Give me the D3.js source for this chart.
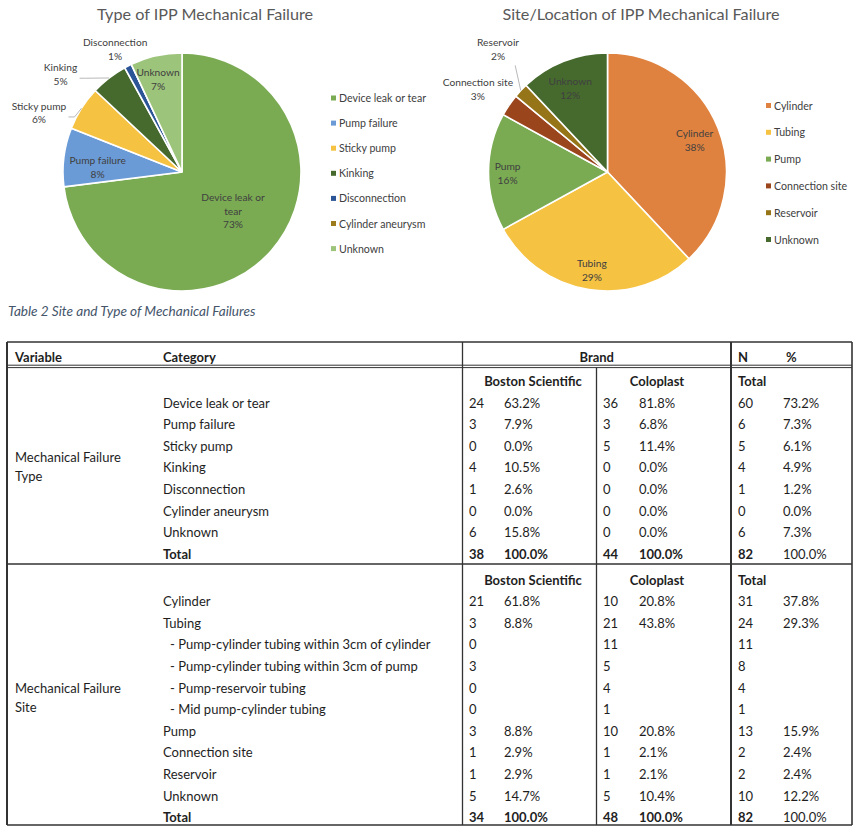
<!DOCTYPE html>
<html>
<head>
  <meta charset="UTF-8">
	<style>
	body { margin: 0; background: #fff; }
	svg { font-family: Lato, 'Open Sans', sans-serif; }
	.title { font-size: 16.2px; fill: #595959; text-anchor: middle; }
	.slice-label { font-size: 10.2px; fill: #404040; text-anchor: middle; }
	.legend-text { font-size: 10.6px; fill: #404040; }
	.caption { font-size: 13.6px; fill: #44546a; font-style: italic; }
	.cell { font-size: 13px; fill: #1e1e1e; }
	.bold { font-weight: bold; }
	.rule { stroke: #333; fill: none; }
	.leader { stroke: #a6a6a6; fill: none; stroke-width: 0.8px; }
	</style>
</head>
<body>
	<svg id="chart" width="856" height="828"></svg>
	<script src="https://d3js.org/d3.v7.min.js"></script>
	<script>

	// ---- pie data (percent labels as shown on the charts)
	let typeNames = ["Device leak or tear", "Pump failure", "Sticky pump", "Kinking", "Disconnection", "Cylinder aneurysm", "Unknown"];
	let typeValues = [73, 8, 6, 5, 1, 0, 7];
	let typeColors = ["#7aab53", "#6b9bd6", "#f5c242", "#466a2e", "#2b5596", "#9c7b1c", "#9dc47b"];

	let siteNames = ["Cylinder", "Tubing", "Pump", "Connection site", "Reservoir", "Unknown"];
	let siteValues = [38, 29, 16, 3, 2, 12];
	let siteColors = ["#e0823f", "#f5c242", "#7aab53", "#9b451c", "#967418", "#466a2e"];

	// ---- table data
	let typeCats = ["Device leak or tear", "Pump failure", "Sticky pump", "Kinking", "Disconnection", "Cylinder aneurysm", "Unknown", "Total"];
	let typeBS = [24, 3, 0, 4, 1, 0, 6, 38];
	let typeBSPct = [63.2, 7.9, 0.0, 10.5, 2.6, 0.0, 15.8, 100.0];
	let typeCP = [36, 3, 5, 0, 0, 0, 0, 44];
	let typeCPPct = [81.8, 6.8, 11.4, 0.0, 0.0, 0.0, 0.0, 100.0];
	let typeTot = [60, 6, 5, 4, 1, 0, 6, 82];
	let typeTotPct = [73.2, 7.3, 6.1, 4.9, 1.2, 0.0, 7.3, 100.0];

	let siteCats = ["Cylinder", "Tubing", "- Pump-cylinder tubing within 3cm of cylinder", "- Pump-cylinder tubing within 3cm of pump",
		"- Pump-reservoir tubing", "- Mid pump-cylinder tubing", "Pump", "Connection site", "Reservoir", "Unknown", "Total"];
	let siteBS = [21, 3, 0, 3, 0, 0, 3, 1, 1, 5, 34];
	let siteBSPct = [61.8, 8.8, null, null, null, null, 8.8, 2.9, 2.9, 14.7, 100.0];
	let siteCP = [10, 21, 11, 5, 4, 1, 10, 1, 1, 5, 48];
	let siteCPPct = [20.8, 43.8, null, null, null, null, 20.8, 2.1, 2.1, 10.4, 100.0];
	let siteTot = [31, 24, 11, 8, 4, 1, 13, 2, 2, 10, 82];
	let siteTotPct = [37.8, 29.3, null, null, null, null, 15.9, 2.4, 2.4, 12.2, 100.0];

	let svg = d3.select("#chart");
	let R = 119;

	// label placement: radius factor k and angle nudge (deg) per slice
	let typeLabelFit = [
		{k: 0.54, da: -4, lines: ["Device leak or", "tear"]},
		{k: 0.71, da: -4},
		{k: 1.30, da: -10, leader: true},
		{k: 1.31, da: -13.4, leader: true},
		{k: 1.17, da: -1.7},
		null,
		{k: 0.80, da: -2}
	];
	let siteLabelFit = [
		{k: 0.78, da: 1.5},
		{k: 0.84, da: 0},
		{k: 0.84, da: -0.7},
		{k: 1.29, da: -1.8, leader: true},
		{k: 1.38, da: 5, leader: true},
		{k: 0.77, da: -2.4}
	];

	function drawPie(cx, cy, title, titleX, names, values, colors, fits, legendX, legendY, legendStep) {
		let g = svg.append("g").attr("transform", "translate(" + cx + "," + cy + ")");
		let pie = d3.pie().sort(null).value(d => d);
		let arcs = pie(values);
		let arc = d3.arc().innerRadius(0).outerRadius(R);

		g.selectAll("path")
			.data(arcs)
			.enter()
			.append("path")
			.attr("d", arc)
			.attr("fill", (d, i) => colors[i])
			.attr("stroke", "#fff")
			.attr("stroke-width", 1.6);

		svg.append("text")
			.attr("class", "title")
			.attr("x", titleX)
			.attr("y", 20)
			.text(title);

		arcs.forEach((a, i) => {
			let f = fits[i];
			if (!f || a.value === 0) return;
			let mid = (a.startAngle + a.endAngle) / 2;
			let ang = mid + f.da * Math.PI / 180;
			let lx = Math.sin(ang) * R * f.k;
			let ly = -Math.cos(ang) * R * f.k;
			let lines = (f.lines || [names[i]]).concat([a.value + "%"]);
			let lh = 13.8;
			let t = g.append("text")
				.attr("class", "slice-label")
				.attr("x", lx)
				.attr("y", ly - (lines.length - 1) * lh / 2 + 3.5);
			lines.forEach((s, j) => {
				t.append("tspan").attr("x", lx).attr("dy", j === 0 ? 0 : lh).text(s);
			});
			if (f.leader) {
				let w = t.node().getBBox().width;
				let ex = Math.sin(mid) * R;
				let ey = -Math.cos(mid) * R;
				let sx = lx + w / 2 + 2;
				let sy = ly + lh / 2 - 3;
				if (lx + w / 2 < ex - 12) {
					g.append("path")
						.attr("class", "leader")
						.attr("d", d3.line()([[sx, sy], [sx + 6, sy], [ex, ey]]));
				} else {
					g.append("path")
						.attr("class", "leader")
						.attr("d", d3.line()([[sx - 6, ly + lh + 2], [ex, ey]]));
				}
			}
		});

		// legend
		let lg = svg.append("g").attr("transform", "translate(" + legendX + "," + legendY + ")");
		let item = lg.selectAll("g")
			.data(names)
			.enter()
			.append("g")
			.attr("transform", (d, i) => "translate(0," + (i * legendStep) + ")");
		item.append("rect")
			.attr("x", 0).attr("y", -3)
			.attr("width", 5).attr("height", 5)
			.attr("fill", (d, i) => colors[i]);
		item.append("text")
			.attr("class", "legend-text")
			.attr("x", 8)
			.attr("y", 3.5)
			.text(d => d);
	}

	drawPie(182, 172, "Type of IPP Mechanical Failure", 205, typeNames, typeValues, typeColors, typeLabelFit, 331, 98.5, 25.1);
	drawPie(607.5, 172, "Site/Location of IPP Mechanical Failure", 641, siteNames, siteValues, siteColors, siteLabelFit, 766, 106, 26.8);

	svg.append("text")
		.attr("class", "caption")
		.attr("x", 8)
		.attr("y", 316)
		.text("Table 2 Site and Type of Mechanical Failures");

	// ---- table
	let xL = 7, xBrand = 462.5, xMid = 596.5, xTot = 731, xR = 852;
	let yTop = 342, yHead = 366, ySec = 564, yBot = 825;
	let rowStep = 21.6;
	let colX = {cat: 163, bsN: 469, bsP: 504, cpN: 603, cpP: 639, totN: 738, totP: 783};
	let fmt = v => (v === null ? "" : v.toFixed(1) + "%");

	let tbl = svg.append("g");
	function hline(y, x1, x2, w) {
		tbl.append("line").attr("class", "rule").attr("x1", x1).attr("x2", x2).attr("y1", y).attr("y2", y).attr("stroke-width", w);
	}
	function vline(x, y1, y2, w) {
		tbl.append("line").attr("class", "rule").attr("x1", x).attr("x2", x).attr("y1", y1).attr("y2", y2).attr("stroke-width", w);
	}
	hline(yTop, xL, xR, 1.5);
	hline(yHead - 0.8, xL, xR, 1);
	hline(yHead + 1.6, xL, xR, 1);
	hline(ySec, xL, xR, 1.4);
	hline(yBot, xL, xR, 1.5);
	vline(xL, yTop, yBot, 2);
	vline(xR, yTop, yBot, 1.6);
	vline(xBrand, yTop, yBot, 1.3);
	vline(xMid, yHead + 1.6, yBot, 1.3);
	vline(xTot, yTop, yBot, 2);

	function cell(x, y, s, bold, anchor) {
		tbl.append("text")
			.attr("class", "cell" + (bold ? " bold" : ""))
			.attr("x", x)
			.attr("y", y)
			.attr("text-anchor", anchor || "start")
			.text(s);
	}

	cell(15, 361.5, "Variable", true);
	cell(colX.cat, 361.5, "Category", true);
	cell((xBrand + xTot) / 2, 361.5, "Brand", true, "middle");
	cell(colX.totN, 361.5, "N", true);
	cell(colX.totP + 3, 361.5, "%", true);

	function section(y0, cats, bsN, bsP, cpN, cpP, totN, totP, varLines) {
		let y = d3.scaleLinear().domain([0, 1]).range([y0, y0 + rowStep]);
		cell(533, y(0), "Boston Scientific", true, "middle");
		cell(657, y(0), "Coloplast", true, "middle");
		cell(colX.totN, y(0), "Total", true);
		cats.forEach((c, i) => {
			let yy = y(i + 1);
			let last = i === cats.length - 1;
			let indent = c.startsWith("-") ? 7 : 0;
			cell(colX.cat + indent, yy, c, last);
			cell(colX.bsN, yy, bsN[i], last);
			cell(colX.bsP, yy, fmt(bsP[i]), last);
			cell(colX.cpN, yy, cpN[i], last);
			cell(colX.cpP, yy, fmt(cpP[i]), last);
			cell(colX.totN, yy, totN[i], last);
			cell(colX.totP, yy, fmt(totP[i]), false);
		});
		let mid = y((cats.length - 1) / 2);
		cell(15, mid, varLines[0]);
		cell(15, mid + 19.7, varLines[1]);
	}

	section(386, typeCats, typeBS, typeBSPct, typeCP, typeCPPct, typeTot, typeTotPct, ["Mechanical Failure", "Type"]);
	section(584.5, siteCats, siteBS, siteBSPct, siteCP, siteCPPct, siteTot, siteTotPct, ["Mechanical Failure", "Site"]);

	</script>
</body>
</html>
